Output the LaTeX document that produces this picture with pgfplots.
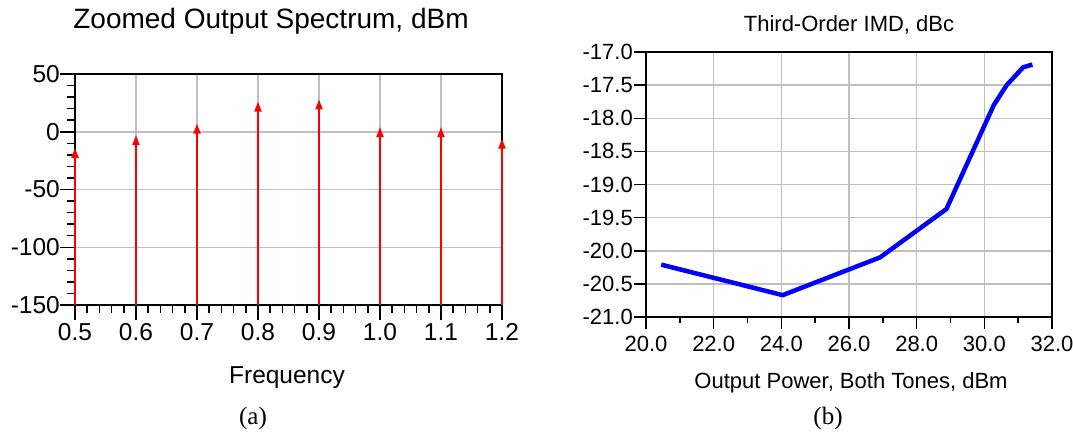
\documentclass[border=0pt]{standalone}
\usepackage{pgfplots}
\pgfplotsset{compat=1.18}
\usepackage{fontspec}
\setmainfont{Liberation Sans}
\newfontfamily\timesfont{Liberation Serif}
\usetikzlibrary{arrows.meta}
\definecolor{gridgray}{RGB}{192,192,192}
\pgfplotstableread{
x y
20.45 -20.21
24.04 -20.67
26.92 -20.10
28.88 -19.37
30.28 -17.80
30.66 -17.50
31.15 -17.23
31.42 -17.19
}\imdtable
\begin{document}
\begin{tikzpicture}[x=1pt,y=1pt]
\useasboundingbox (0,0) rectangle (1073,432);
\begin{axis}[
  at={(75pt,127pt)}, anchor=south west, scale only axis,
  width=427pt, height=231pt,
  xmin=0.5, xmax=1.2, ymin=-150, ymax=50,
  xtick={0.5,0.6,0.7,0.8,0.9,1.0,1.1,1.2},
  xticklabels={0.5,0.6,0.7,0.8,0.9,1.0,1.1,1.2},
  ytick={-150,-100,-50,0,50},
  yticklabels={-150,-100,-50,0,50},
  minor x tick num=4, minor y tick num=4,
  tick pos=left, tick align=outside,
  major tick length=15pt, minor tick length=8pt,
  every tick/.style={black, line width=1.5pt},
  grid=major, major grid style={gridgray, line width=1.5pt},
  axis line style={black, line width=2pt},
  ticklabel style={font=\fontsize{24.5}{24.5}\selectfont},
  yticklabel style={inner xsep=0pt},
  clip=false,
]
\addplot[red, line width=2pt, -{Triangle[width=7pt,length=10pt]}, forget plot] coordinates {(0.5,-150) (0.5,-14)};
\addplot[red, line width=2pt, -{Triangle[width=7pt,length=10pt]}, forget plot] coordinates {(0.6,-150) (0.6,-3)};
\addplot[red, line width=2pt, -{Triangle[width=7pt,length=10pt]}, forget plot] coordinates {(0.7,-150) (0.7,7)};
\addplot[red, line width=2pt, -{Triangle[width=7pt,length=10pt]}, forget plot] coordinates {(0.8,-150) (0.8,26)};
\addplot[red, line width=2pt, -{Triangle[width=7pt,length=10pt]}, forget plot] coordinates {(0.9,-150) (0.9,28)};
\addplot[red, line width=2pt, -{Triangle[width=7pt,length=10pt]}, forget plot] coordinates {(1.0,-150) (1.0,4)};
\addplot[red, line width=2pt, -{Triangle[width=7pt,length=10pt]}, forget plot] coordinates {(1.1,-150) (1.1,4)};
\addplot[red, line width=2pt, -{Triangle[width=7pt,length=10pt]}, forget plot] coordinates {(1.2,-150) (1.2,-6)};
\end{axis}
\begin{axis}[
  at={(646pt,115pt)}, anchor=south west, scale only axis,
  width=406pt, height=265pt,
  xmin=20, xmax=32, ymin=-21, ymax=-17,
  xtick={20,22,24,26,28,30,32},
  xticklabels={20.0,22.0,24.0,26.0,28.0,30.0,32.0},
  ytick={-21,-20.5,-20,-19.5,-19,-18.5,-18,-17.5,-17},
  yticklabels={-21.0,-20.5,-20.0,-19.5,-19.0,-18.5,-18.0,-17.5,-17.0},
  minor x tick num=1,
  tick pos=left, tick align=outside,
  major tick length=12pt, minor tick length=6pt,
  every tick/.style={black, line width=1.5pt},
  grid=major, major grid style={gridgray, line width=1.5pt},
  axis line style={black, line width=2pt},
  ticklabel style={font=\fontsize{22}{22}\selectfont},
  xticklabel style={yshift=-4pt},
  yticklabel style={inner xsep=1pt},
]
\addplot[blue, line width=4.5pt, line join=round] table[x=x,y=y] {\imdtable};
\end{axis}
\node[font=\fontsize{28}{28}\selectfont, anchor=base] at (271,403.7) {Zoomed Output Spectrum, dBm};
\node[font=\fontsize{22}{22}\selectfont, anchor=base] at (849,400.3) {Third-Order IMD, dBc};
\node[font=\fontsize{24.5}{24.5}\selectfont, anchor=base] at (287,48.7) {Frequency};
\node[font=\fontsize{22}{22}\selectfont, anchor=base] at (851,44) {Output Power, Both Tones, dBm};
\node[font=\timesfont\fontsize{25}{25}\selectfont, anchor=base] at (253,8) {(a)};
\node[font=\timesfont\fontsize{25}{25}\selectfont, anchor=base] at (828,8) {(b)};
\end{tikzpicture}
\end{document}
